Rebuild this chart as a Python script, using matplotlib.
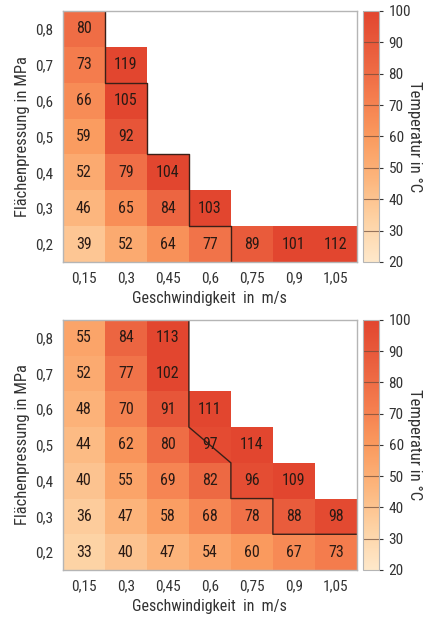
import numpy as np
import matplotlib
matplotlib.use("Agg")
import matplotlib.pyplot as plt
from matplotlib.colors import LinearSegmentedColormap, Normalize

plt.rcParams['font.family'] = ['DejaVu Sans Condensed', 'Liberation Sans Narrow', 'Roboto Condensed', 'DejaVu Sans']

geschwindigkeit = ['0,15', '0,3', '0,45', '0,6', '0,75', '0,9', '1,05']
pressung = ['0,2', '0,3', '0,4', '0,5', '0,6', '0,7', '0,8']

# Temperatur, Zeilen von 0,2 MPa (unten) bis 0,8 MPa (oben)
n = np.nan
temp_oben = [
    [39, 52, 64, 77, 89, 101, 112],
    [46, 65, 84, 103, n, n, n],
    [52, 79, 104, n, n, n, n],
    [59, 92, n, n, n, n, n],
    [66, 105, n, n, n, n, n],
    [73, 119, n, n, n, n, n],
    [80, n, n, n, n, n, n],
]
temp_unten = [
    [33, 40, 47, 54, 60, 67, 73],
    [36, 47, 58, 68, 78, 88, 98],
    [40, 55, 69, 82, 96, 109, n],
    [44, 62, 80, 97, 114, n, n],
    [48, 70, 91, 111, n, n, n],
    [52, 77, 102, n, n, n, n],
    [55, 84, 113, n, n, n, n],
]

# Grenzlinie (in Zellen-Einheiten)
grenze_oben_x = [1, 1, 2, 2, 3, 3, 4, 4]
grenze_oben_y = [7, 5, 5, 3, 3, 1, 1, 0]
grenze_unten_x = [3, 3, 4, 4, 5, 5, 7]
grenze_unten_y = [7, 4, 3, 2, 2, 1, 1]

cmap = LinearSegmentedColormap.from_list(
    'temp', ['#fee8ca', '#fdd2a4', '#fcb57c', '#fa9a5e', '#f47b4d', '#ea5f3e', '#e2462f'])
norm = Normalize(20, 100)

fig = plt.figure(figsize=(4.31, 6.17), dpi=100)

def panel(rect, cbrect, data, gx, gy):
    ax = fig.add_axes(rect)
    z = np.ma.masked_invalid(np.array(data, dtype=float))
    mesh = ax.pcolormesh(np.arange(8), np.arange(8), z, cmap=cmap, norm=norm)
    for i in range(z.shape[0]):
        for j in range(z.shape[1]):
            if not np.ma.is_masked(z[i, j]):
                ax.text(j + 0.5, i + 0.5, f"{int(z[i, j])}", ha='center', va='center',
                        fontsize=11.5, color='#2a1a14')
    ax.plot(gx, gy, color='#3a2018', lw=1.0)
    ax.set_xlim(0, 7)
    ax.set_ylim(0, 7)
    ax.set_xticks(np.arange(7) + 0.5)
    ax.set_xticklabels(geschwindigkeit)
    ax.set_yticks(np.arange(7) + 0.5)
    ax.set_yticklabels(pressung)
    ax.tick_params(length=0, labelsize=11, colors='#333333', pad=7)
    for s in ax.spines.values():
        s.set_color('#b5b5b5')
        s.set_linewidth(1.0)
    ax.set_xlabel('Geschwindigkeit  in  m/s', fontsize=11.5, color='#333333', labelpad=4)
    ax.set_ylabel('Flächenpressung in MPa', fontsize=12, color='#333333', labelpad=4)

    cax = fig.add_axes(cbrect)
    cb = fig.colorbar(mesh, cax=cax)
    cb.set_ticks(np.arange(20, 101, 10))
    cb.ax.tick_params(length=3, labelsize=11, colors='#333333', pad=4)
    for t in np.arange(30, 100, 10):
        cax.axhline(t, color='#6b4a3a', lw=0.8, alpha=0.7)
    cb.outline.set_edgecolor('#b5b5b5')
    cb.set_label('Temperatur in °C', rotation=270, fontsize=12, color='#333333', labelpad=8)
    return ax

panel([0.146, 0.5754, 0.682, 0.4068], [0.842, 0.5754, 0.037, 0.4068],
      temp_oben, grenze_oben_x, grenze_oben_y)
panel([0.146, 0.0762, 0.682, 0.4052], [0.842, 0.0762, 0.037, 0.4052],
      temp_unten, grenze_unten_x, grenze_unten_y)

fig.savefig('out.png', dpi=100)
